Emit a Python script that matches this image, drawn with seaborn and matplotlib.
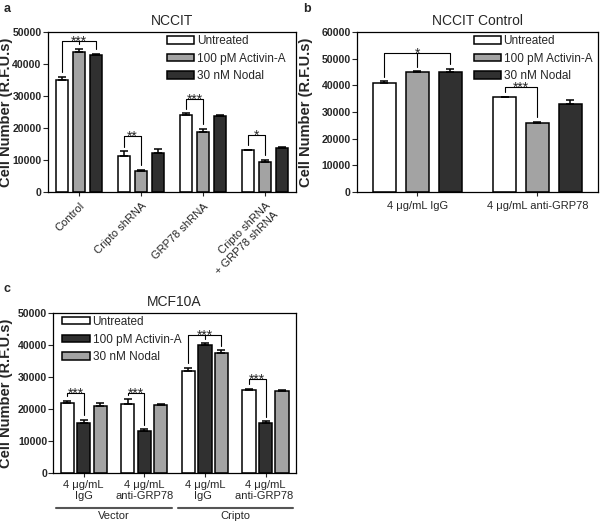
import numpy as np
import pandas as pd
import seaborn as sns
import matplotlib.pyplot as plt

sns.set_style("white")
plt.rcParams["font.family"] = ["Liberation Sans", "DejaVu Sans"]

# ---------------- data ----------------
treatments = ["Untreated", "100 pM Activin-A", "30 nM Nodal"]

# panel a - NCCIT
a_groups = ["Control", "Cripto shRNA", "GRP78 shRNA", "Cripto shRNA\n+ GRP78 shRNA"]
a_untreated = [35000, 11200, 24000, 13000]
a_activin = [43700, 6500, 18800, 9500]
a_nodal = [42800, 12200, 23900, 13800]
a_err_untreated = [900, 1500, 600, 300]
a_err_activin = [1000, 500, 1000, 500]
a_err_nodal = [300, 1300, 300, 300]
# (group, bar1, bar2, label, bracket top, middle tick)
a_sig = [(0, 0, 2, "***", 47300, True), (1, 0, 1, "**", 17600, False),
         (2, 0, 1, "***", 29000, False), (3, 0, 1, "*", 17900, False)]

# panel b - NCCIT Control
b_groups = ["4 \u03bcg/mL IgG", "4 \u03bcg/mL anti-GRP78"]
b_untreated = [41000, 35500]
b_activin = [45000, 25800]
b_nodal = [45000, 33200]
b_err_untreated = [500, 300]
b_err_activin = [300, 600]
b_err_nodal = [1200, 1200]
b_sig = [(0, 0, 2, "*", 52000, True), (1, 0, 1, "***", 39300, False)]

# panel c - MCF10A
c_groups = ["4 \u03bcg/mL\nIgG", "4 \u03bcg/mL\nanti-GRP78", "4 \u03bcg/mL\nIgG ", "4 \u03bcg/mL\nanti-GRP78 "]
c_untreated = [22000, 21500, 31800, 26000]
c_activin = [15500, 13000, 40000, 15600]
c_nodal = [20800, 21200, 37600, 25500]
c_err_untreated = [600, 1500, 1000, 300]
c_err_activin = [1000, 600, 500, 500]
c_err_nodal = [1200, 300, 700, 300]
c_sig = [(0, 0, 1, "***", 25000, False), (1, 0, 1, "***", 25000, False),
         (2, 0, 2, "***", 43000, True), (3, 0, 1, "***", 29200, False)]
c_supergroups = ["Vector", "Cripto"]


def make_df(groups, u, a, n, eu, ea, en):
    rows = []
    for vals, errs, t in [(u, eu, treatments[0]), (a, ea, treatments[1]), (n, en, treatments[2])]:
        for g, v, e in zip(groups, vals, errs):
            rows.append({"group": g, "treatment": t, "value": v, "err": e})
    return pd.DataFrame(rows)


def draw_panel(ax, df, groups, palette, ymax, sig, title, legend_loc, legend_anchor, gap, ylab_x):
    sns.barplot(data=df, x="group", y="value", hue="treatment", order=groups,
                hue_order=treatments, palette=palette, edgecolor="black",
                linewidth=1.1, errorbar=None, width=0.82, gap=gap, ax=ax)
    # upper-only error bars
    centers = {}
    bar_containers = list(ax.containers)
    for ti, cont in enumerate(bar_containers):
        sub = df[df.treatment == treatments[ti]].set_index("group").loc[groups]
        xs = [p.get_x() + p.get_width() / 2 for p in cont.patches]
        ax.errorbar(xs, sub["value"], yerr=[np.zeros(len(xs)), sub["err"]],
                    fmt="none", ecolor="black", elinewidth=1.1, capsize=3, capthick=1.1, zorder=3)
        for gi, x in enumerate(xs):
            centers[(gi, ti)] = (x, sub["value"].iloc[gi] + sub["err"].iloc[gi])
    # significance brackets
    off = ymax * 0.03
    for gi, b1, b2, lab, ytop, mid in sig:
        x1, t1 = centers[(gi, b1)]
        x2, t2 = centers[(gi, b2)]
        ax.plot([x1, x1, x2, x2], [t1 + off, ytop, ytop, t2 + off], color="black", lw=0.8)
        if mid:
            xm, tm = centers[(gi, 1)]
            ax.plot([xm, xm], [ytop, tm + off], color="black", lw=0.8)
        ax.annotate(lab, ((x1 + x2) / 2, ytop), xytext=(0, -3.3), textcoords="offset points",
                    ha="center", va="baseline", fontsize=10)
    ax.set_ylim(0, ymax)
    ax.set_yticks(np.arange(0, ymax + 1, 10000))
    ax.set_xlim(-0.5, len(groups) - 0.5)
    ax.set_xlabel("")
    ax.set_ylabel("Cell Number (R.F.U.s)", fontsize=10.5, fontweight="bold")
    ax.yaxis.set_label_coords(ylab_x, 0.5)
    ax.set_title(title, fontsize=10, pad=5)
    for lab in ax.get_yticklabels():
        lab.set_fontweight("bold")
    ax.tick_params(axis="y", labelsize=7.6, length=3.5, width=0.8, direction="out", left=True, pad=1)
    ax.tick_params(axis="x", labelsize=8, length=3, width=0.8, direction="out", bottom=True)
    for s in ax.spines.values():
        s.set_color("black")
        s.set_linewidth(0.9)
    ax.legend(loc=legend_loc, bbox_to_anchor=legend_anchor, frameon=False, fontsize=8.5,
              handlelength=2.3, handleheight=0.6, labelspacing=0.48, handletextpad=0.25,
              borderaxespad=0, borderpad=0.25)


fig = plt.figure(figsize=(6, 5.22), dpi=100)

pal_a = {treatments[0]: "white", treatments[1]: "#a3a3a3", treatments[2]: "#303030"}
pal_c = {treatments[0]: "white", treatments[1]: "#303030", treatments[2]: "#a3a3a3"}

# panel a
ax_a = fig.add_axes([0.08, 0.632, 0.413, 0.3065])
df_a = make_df(a_groups, a_untreated, a_activin, a_nodal, a_err_untreated, a_err_activin, a_err_nodal)
draw_panel(ax_a, df_a, a_groups, pal_a, 50000, a_sig, "NCCIT", "upper right", (0.97, 1.0), 0.3, -0.14)
plt.setp(ax_a.get_xticklabels(), rotation=45, ha="right", rotation_mode="anchor")

# panel b
ax_b = fig.add_axes([0.595, 0.632, 0.401, 0.3065])
df_b = make_df(b_groups, b_untreated, b_activin, b_nodal, b_err_untreated, b_err_activin, b_err_nodal)
draw_panel(ax_b, df_b, b_groups, pal_a, 60000, b_sig, "NCCIT Control", "upper right", (0.99, 1.0), 0.3, -0.183)

# panel c
ax_c = fig.add_axes([0.089, 0.094, 0.404, 0.3065])
df_c = make_df(c_groups, c_untreated, c_activin, c_nodal, c_err_untreated, c_err_activin, c_err_nodal)
draw_panel(ax_c, df_c, c_groups, pal_c, 50000, c_sig, "MCF10A", "upper left", (0.025, 1.0), 0.2, -0.165)
ax_c.tick_params(axis="x", pad=2)
for k, name in enumerate(c_supergroups):
    x0, x1 = 2 * k - 0.45, 2 * k + 1.45
    ax_c.plot([x0, x1], [-0.22, -0.22], color="#555555", lw=1.5,
              transform=ax_c.get_xaxis_transform(), clip_on=False)
    ax_c.text((x0 + x1) / 2, -0.27, name, ha="center", va="center", fontsize=8,
              transform=ax_c.get_xaxis_transform())

# panel letters
fig.text(0.006, 0.995, "a", fontsize=9, fontweight="bold", va="top")
fig.text(0.505, 0.995, "b", fontsize=9, fontweight="bold", va="top")
fig.text(0.006, 0.458, "c", fontsize=9, fontweight="bold", va="top")

fig.savefig("out.png", dpi=100)
